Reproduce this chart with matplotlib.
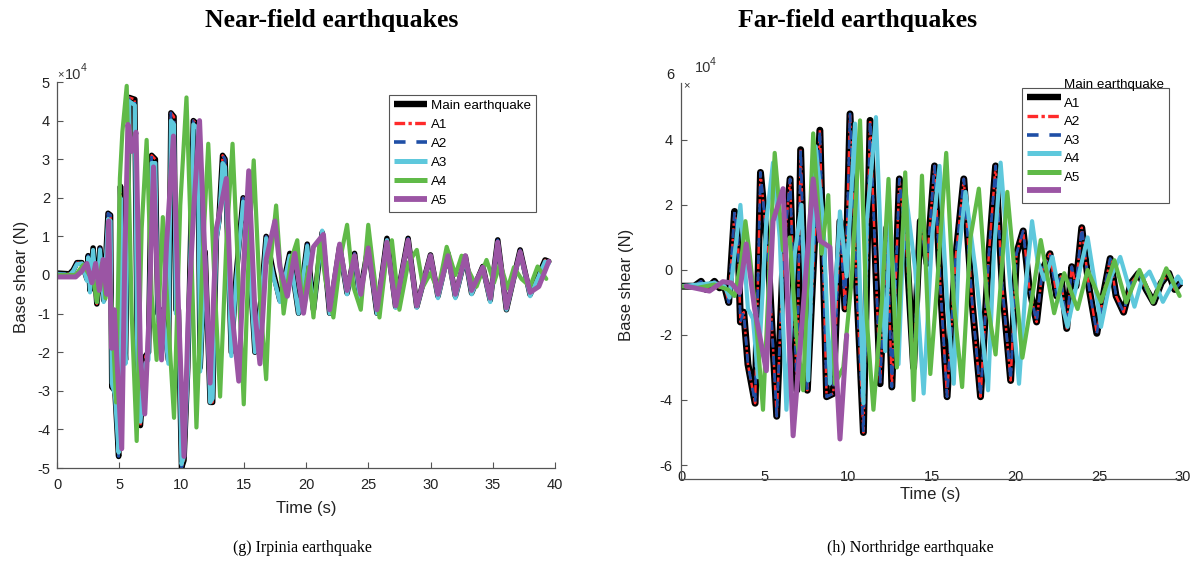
import matplotlib
matplotlib.use("Agg")
import matplotlib.pyplot as plt
from matplotlib.lines import Line2D
import matplotlib.transforms as mtransforms

plt.rcParams['font.family'] = ['Liberation Sans', 'DejaVu Sans']
plt.rcParams['axes.unicode_minus'] = False

# ---------------- data: Irpinia (near-field), base shear in 1e4 N ----------------
irp_t = [0.0, 1.0, 1.3, 1.6, 2.0, 2.4, 2.5, 2.65, 2.9, 3.2,
         3.45, 3.75, 4.1, 4.3, 4.4, 4.65, 4.95, 5.1, 5.35, 5.5,
         5.8, 6.25, 6.45, 6.7, 7.1, 7.35, 7.6, 7.9, 8.1, 8.5,
         8.95, 9.15, 9.4, 9.55, 9.75, 10.0, 10.2, 10.5, 10.95, 11.3,
         11.5, 11.9, 12.3, 12.5, 12.8, 13.0, 13.3, 13.5, 14.0, 14.4,
         14.95, 15.3, 15.9, 16.4, 16.8, 17.35, 17.9, 18.7, 19.4, 20.1,
         20.6, 21.3, 21.9, 22.7, 23.3, 23.9, 24.3, 25.0, 25.7, 26.5,
         27.2, 28.2, 28.9, 30.0, 30.6, 31.4, 32.0, 32.8, 33.3, 34.2,
         34.8, 35.4, 36.1, 37.2, 38.0, 39.2, 39.5]
irp_main = [0.05, 0.03, 0.13, 0.32, 0.32, -0.1, 0.5, -0.4, 0.7, -0.75,
            0.7, -0.65, 1.6, 1.55, -2.9, -3.0, -4.7, 2.3, -1.2, -2.2,
            4.6, 4.55, -2.0, -3.9, -2.1, -2.0, 3.1, 3.0, -1.0, -0.9,
            -2.2, 4.2, 4.1, -0.9, -0.9, -5.0, -4.8, -2.4, 4.0, 3.9,
            -2.4, 0.6, -3.3, -3.3, 1.0, 1.4, 3.1, 3.0, -2.0, 0.0,
            2.0, 1.2, -2.0, -0.6, 1.0, 0.1, -0.65, 0.56, -0.99, 0.8,
            -0.9, 1.1, -0.99, 0.73, -0.47, 0.56, -0.55, 0.73, -0.99, 0.95,
            -0.82, 0.95, -0.82, 0.52, -0.55, 0.56, -0.55, 0.48, -0.47, 0.22,
            -0.65, 0.91, -0.9, 0.65, -0.51, 0.39, 0.35]
irp_a1 = list(irp_main)
irp_a2 = list(irp_main)
irp_a3 = [0.02, 0.0, 0.1, 0.28, 0.3, -0.15, 0.45, -0.45, 0.65, -0.7,
          0.65, -0.7, 1.45, 1.4, -2.8, -3.1, -4.6, 2.0, -1.4, -2.3,
          4.5, 4.4, -2.2, -3.8, -2.3, -2.2, 2.9, 2.9, -1.2, -1.0,
          -2.3, 4.0, 3.9, -1.0, -1.0, -4.9, -4.7, -2.6, 3.9, 3.8,
          -2.5, 0.5, -3.3, -3.2, 0.9, 1.3, 2.9, 2.8, -2.1, -0.1,
          1.9, 1.1, -2.0, -0.7, 0.95, 0.0, -0.7, 0.5, -1.0, 0.75,
          -0.95, 1.15, -1.0, 0.7, -0.5, 0.5, -0.6, 0.7, -1.0, 0.9,
          -0.85, 0.9, -0.85, 0.5, -0.6, 0.5, -0.6, 0.45, -0.5, 0.2,
          -0.7, 0.85, -0.9, 0.6, -0.55, 0.35, 0.3]
irp_a4_t = [0.0, 1.5, 2.1, 2.6, 2.9, 3.2, 3.6, 3.9, 4.2, 4.45,
            4.75, 5.05, 5.25, 5.6, 6.0, 6.4, 6.8, 7.2, 7.6, 8.0,
            8.5, 8.9, 9.4, 9.9, 10.4, 10.8, 11.2, 11.7, 12.15, 12.6,
            13.1, 13.6, 14.1, 14.6, 15.0, 15.4, 15.8, 16.3, 16.8, 17.2,
            17.6, 18.2, 18.8, 19.3, 19.7, 20.2, 20.6, 21.1, 21.6, 22.2,
            22.8, 23.3, 23.8, 24.4, 25.0, 25.4, 25.9, 26.4, 26.9, 27.5,
            28.2, 28.9, 29.4, 30.0, 30.6, 31.3, 32.0, 32.5, 32.9, 33.7,
            34.5, 35.1, 35.6, 36.2, 36.7, 37.3, 38.0, 38.6, 39.3]
irp_a4 = [0.0, 0.0, 0.26, 0.0, -0.05, -0.7, 0.3, -0.6, 0.4, -1.2,
          -3.3, 2.5, 3.7, 4.9, -1.0, -4.3, 1.2, 3.5, -0.5, -2.2,
          1.5, -1.0, -3.7, 1.8, 4.6, 0.5, -3.95, 0.5, 3.4, 0.2,
          -3.15, 0.8, 3.4, -0.3, -3.35, 0.6, 2.97, -0.6, -2.7, 0.5,
          1.8, -1.0, 0.4, 0.9, -0.8, 0.2, -1.1, 0.9, -0.2, -1.1,
          0.5, 1.3, -0.3, -0.9, 1.3, 0.2, -1.1, 0.3, 0.9, -0.9,
          0.3, 0.65, -0.3, 0.05, -0.4, 0.73, 0.0, 0.5, 0.22, -0.3,
          0.39, -0.2, 0.3, -0.35, 0.2, -0.1, -0.3, 0.22, -0.1]
irp_a5_t = [0.0, 1.5, 2.0, 2.4, 2.8, 3.1, 3.4, 3.7, 4.0, 4.15,
            4.4, 4.6, 4.85, 5.2, 5.45, 5.7, 6.0, 6.35, 6.7, 7.05,
            7.4, 7.75, 8.1, 8.4, 8.8, 9.35, 9.75, 10.2, 10.55, 11.0,
            11.45, 11.9, 12.3, 12.8, 13.6, 14.0, 14.6, 15.0, 15.4, 15.9,
            16.3, 16.8, 17.5, 17.9, 18.5, 19.1, 19.8, 20.6, 21.4, 21.9,
            22.7, 23.3, 23.9, 24.4, 25.0, 25.7, 26.5, 27.2, 28.2, 28.9,
            30.0, 30.6, 31.4, 32.0, 32.8, 33.3, 34.2, 34.8, 35.4, 36.1,
            37.2, 38.0, 38.7, 39.5]
irp_a5 = [-0.05, -0.05, 0.1, 0.3, -0.2, 0.3, -0.4, 0.4, -0.5, 1.4,
          -1.9, -0.9, -2.4, -4.5, 0.5, 3.9, 3.2, 3.7, -2.1, -3.6,
          -1.0, 2.8, -0.5, -2.2, 0.8, 3.6, -0.8, -4.7, -1.0, 1.8,
          4.0, 0.3, -2.8, 1.2, 2.5, -0.8, -2.75, 0.3, 2.7, -1.0,
          -2.3, 0.4, 1.4, 0.22, -0.55, 0.56, -0.99, 0.73, 1.05, -0.9,
          0.8, -0.4, 0.5, -0.5, 0.7, -0.9, 0.85, -0.8, 0.9, -0.8,
          0.5, -0.5, 0.5, -0.5, 0.5, -0.4, 0.2, -0.6, 0.85, -0.85,
          0.6, -0.45, -0.3, 0.35]

# ---------------- data: Northridge (far-field), base shear in 1e4 N ----------------
nor_t = [0.0, 0.8, 1.2, 1.5, 2.0, 2.3, 2.6, 2.85, 3.2, 3.4,
         3.55, 3.75, 4.0, 4.43, 4.75, 5.2, 5.72, 6.1, 6.52, 6.92,
         7.15, 7.55, 8.3, 8.7, 9.1, 9.5, 9.8, 10.1, 10.5, 10.9,
         11.3, 11.9, 12.3, 12.6, 13.05, 13.5, 13.9, 14.3, 14.7, 15.15,
         15.5, 15.9, 16.4, 16.9, 17.4, 17.9, 18.4, 18.8, 19.2, 19.7,
         20.05, 20.45, 20.8, 21.25, 21.6, 22.05, 22.45, 22.7, 23.05, 23.35,
         23.6, 23.95, 24.4, 24.85, 25.3, 25.65, 26.0, 26.45, 26.9, 27.35,
         27.8, 28.25, 28.7, 29.15, 29.5, 29.85]
nor_main = [-0.5, -0.5, -0.35, -0.6, -0.35, -0.55, -0.5, -1.0, 1.8, 1.0,
            -1.6, -1.3, -2.9, -4.1, 3.0, 0.5, -4.5, 0.3, 2.8, -3.7,
            3.7, -3.7, 4.3, -3.9, -3.8, 1.5, -1.2, 4.8, -0.5, -5.0,
            4.6, -3.5, 1.3, -3.6, 2.8, 0.5, -3.0, 1.5, 0.2, 3.2,
            -0.5, -3.9, 0.3, 2.8, -1.0, -3.9, 0.5, 3.2, -0.5, -3.4,
            0.5, 1.2, -0.5, -1.6, 0.0, 0.5, -0.8, -0.2, -1.8, 0.1,
            -0.5, 1.3, -0.6, -1.95, -0.6, 0.35, -0.8, -1.3, -0.4, -0.1,
            -0.6, -1.0, -0.4, -0.1, -0.6, -0.4]
nor_a1 = list(nor_main)
nor_a2 = list(nor_main)
nor_a3_t = [0.0, 1.0, 2.0, 2.6, 2.9, 3.55, 4.0, 4.3, 4.6, 5.1,
            5.5, 5.9, 6.3, 6.8, 7.2, 7.6, 8.05, 8.5, 8.9, 9.5,
            9.9, 10.4, 10.9, 11.1, 11.65, 12.2, 12.5, 13.0, 13.4, 14.0,
            14.5, 15.0, 15.45, 15.9, 16.3, 16.6, 17.0, 17.6, 18.35, 18.7,
            19.1, 19.6, 20.2, 20.6, 20.98, 21.3, 21.7, 22.2, 22.6, 23.1,
            23.7, 24.3, 24.7, 25.1, 25.7, 26.25, 26.7, 27.1, 27.55, 28.0,
            28.4, 28.8, 29.3, 29.7, 29.95]
nor_a3 = [-0.5, -0.45, -0.4, -0.5, -0.85, 2.0, -1.2, -1.5, -3.3, 1.5,
          3.3, 1.0, -4.3, 0.5, 2.0, -3.4, 3.8, 1.5, -3.5, 1.8,
          -0.2, 4.5, -4.1, 1.5, 4.7, -2.5, 1.5, -2.9, 2.5, 0.0,
          -3.8, 1.0, 3.2, -1.0, -3.5, 0.5, 2.4, 0.0, -3.7, 0.5,
          3.3, 0.0, -3.5, -0.5, 1.5, 0.3, -0.3, 0.4, -0.7, -1.75,
          -0.3, 1.0, -0.3, -1.75, -0.2, 0.4, -0.4, -1.13, -0.3, -0.05,
          -0.5, -0.98, -0.5, -0.2, -0.4]
nor_a4_t = [0.0, 1.0, 2.0, 2.5, 2.8, 3.2, 3.6, 3.85, 4.1, 4.4,
            4.9, 5.6, 6.1, 6.5, 6.9, 7.3, 7.9, 8.4, 8.8, 9.2,
            9.7, 10.2, 10.7, 11.1, 11.5, 12.0, 12.4, 12.9, 13.4, 13.9,
            14.4, 14.9, 15.3, 15.85, 16.3, 16.8, 17.3, 17.8, 18.3, 18.8,
            19.5, 20.4, 21.0, 21.5, 22.3, 22.9, 23.7, 24.3, 25.1, 25.9,
            26.6, 27.4, 28.2, 29.0, 29.8]
nor_a4 = [-0.5, -0.55, -0.45, -0.55, -0.6, -0.8, 0.3, 1.5, 0.5, -1.0,
          -4.3, 3.6, 0.6, 1.0, -2.0, -3.7, 4.2, 0.5, 2.3, -3.5,
          -3.0, -0.3, 4.6, -1.5, -4.3, -1.0, 2.8, -3.0, 3.0, -4.0,
          2.9, -3.2, -0.5, 3.6, -1.0, -3.6, 1.0, 2.5, -1.0, -2.6,
          2.4, -2.7, -0.8, 0.92, -1.33, -0.1, -1.2, 0.0, -0.98, 0.3,
          -1.0, 0.0, -1.0, 0.05, -0.8]
nor_a5_t = [0.3, 1.7, 2.5, 3.0, 3.5, 3.9, 4.4, 5.1, 5.5, 6.1, 6.7, 7.9, 8.3, 8.9, 9.5, 9.9]
nor_a5 = [-0.5, -0.65, -0.36, -0.4, -0.7, 0.8, -1.2, -3.1, 1.5, 2.5, -5.1, 2.8, 0.9, 0.7, -5.2, -2.0]

series_names = ["Main earthquake", "A1", "A2", "A3", "A4", "A5"]
yticks_irp = [-5, -4, -3, -2, -1, 0, 1, 2, 3, 4, 5]
xticks_irp = [0, 5, 10, 15, 20, 25, 30, 35, 40]
yticks_nor = [-6, -4, -2, 0, 2, 4]
xticks_nor = [0, 5, 10, 15, 20, 25, 30]

styles = [
    dict(color="#000000", lw=4.0, ls="-"),
    dict(color="#ff2a2a", lw=1.8, ls=(0, (3.2, 1.0, 1.0, 1.0))),
    dict(color="#1f4fa6", lw=2.0, ls=(0, (3.2, 3.0))),
    dict(color="#5ec8dc", lw=3.0, ls="-"),
    dict(color="#60ba48", lw=3.0, ls="-"),
    dict(color="#9b55a4", lw=3.6, ls="-"),
]

W, H = 1192, 565
fig = plt.figure(figsize=(W / 100, H / 100), dpi=100)


def rect(x0, y0, x1, y1):
    return [x0 / W, 1 - y1 / H, (x1 - x0) / W, (y1 - y0) / H]


def fx(px):
    return px / W


def fy(py):
    return 1 - py / H


SPINE = "#555555"
serif = ["Liberation Serif", "DejaVu Serif"]

# ---------------- left panel ----------------
ax1 = fig.add_axes(rect(57, 82, 555, 468))
irp_series = [(irp_t, irp_main), (irp_t, irp_a1), (irp_t, irp_a2), (irp_t, irp_a3),
              (irp_a4_t, irp_a4), (irp_a5_t, irp_a5)]
for (tt, vv), st in zip(irp_series, styles):
    ax1.plot(tt, vv, color=st["color"], lw=st["lw"], ls=st["ls"],
             solid_joinstyle="round", solid_capstyle="round")
ax1.set_xlim(0, 40)
ax1.set_ylim(-5, 5)
ax1.set_xticks(xticks_irp)
ax1.set_yticks(yticks_irp)
ax1.tick_params(direction="in", length=4, width=0.8, color=SPINE, labelsize=10.5,
                labelcolor="#222222")
ax1.tick_params(axis="x", pad=7)
ax1.tick_params(axis="y", pad=5)
for s in ["top", "right"]:
    ax1.spines[s].set_visible(False)
for s in ["left", "bottom"]:
    ax1.spines[s].set_color(SPINE)
    ax1.spines[s].set_linewidth(0.9)
ax1.patch.set_alpha(0)

handles = [Line2D([], [], color=st["color"], lw=st["lw"] + 0.6, ls=st["ls"],
                  solid_capstyle="butt") for st in styles]
leg1 = ax1.legend(handles, series_names, loc="upper left",
                  bbox_to_anchor=(fx(389), fy(95)), bbox_transform=fig.transFigure,
                  frameon=True, fancybox=False, edgecolor="#555555", framealpha=1,
                  prop={"family": ["Liberation Sans"], "size": 9.6},
                  handlelength=2.5, handletextpad=0.3, labelspacing=0.5,
                  borderpad=0.35, borderaxespad=0)
leg1.get_frame().set_linewidth(0.8)

fig.text(fx(22), fy(277), "Base shear (N)", rotation=90, ha="center", va="center",
         fontsize=12, color="#222222")
fig.text(fx(306), fy(508), "Time (s)", ha="center", va="center", fontsize=12, color="#222222")
fig.text(fx(57), fy(74), "\u00d7", ha="left", va="center", fontsize=8, color="#333333")
fig.text(fx(65), fy(75), "10", ha="left", va="center", fontsize=10.5, color="#333333")
fig.text(fx(80.5), fy(68), "4", ha="left", va="center", fontsize=7.5, color="#333333")

fig.text(fx(332), fy(20), "Near-field earthquakes", ha="center", va="center",
         fontsize=18.5, fontweight="bold", family=serif)
fig.text(fx(302), fy(548), "(g) Irpinia earthquake", ha="center", va="center",
         fontsize=11.5, family=serif)

# ---------------- right panel ----------------
ax2 = fig.add_axes(rect(681, 83, 1183, 479))
nor_series = [(nor_t, nor_main), (nor_t, nor_a1), (nor_t, nor_a2), (nor_a3_t, nor_a3),
              (nor_a4_t, nor_a4), (nor_a5_t, nor_a5)]
for (tt, vv), st in zip(nor_series, styles):
    lw = st["lw"] + (1.0 if st["color"] == "#000000" else 0.0)
    ax2.plot(tt, vv, color=st["color"], lw=lw, ls=st["ls"],
             solid_joinstyle="round", solid_capstyle="round")
ax2.set_xlim(0, 30)
ax2.set_ylim(-6.43, 5.75)
ax2.set_xticks(xticks_nor)
ax2.set_yticks(yticks_nor)
ax2.tick_params(direction="in", length=4, width=0.8, color=SPINE, labelsize=10.5,
                labelcolor="#222222")
ax2.tick_params(axis="x", length=0, pad=-6.5)
ax2.tick_params(axis="y", pad=6)
for s in ["top", "right"]:
    ax2.spines[s].set_visible(False)
for s in ["left", "bottom"]:
    ax2.spines[s].set_color(SPINE)
    ax2.spines[s].set_linewidth(0.9)
ax2.patch.set_alpha(0)
fig.text(fx(670), fy(75), "6", ha="center", va="center", fontsize=10.5, color="#222222")

leg2 = ax2.legend(handles, series_names, loc="upper left",
                  bbox_to_anchor=(fx(1022), fy(88)), bbox_transform=fig.transFigure,
                  frameon=True, fancybox=False, edgecolor="#555555", framealpha=1,
                  prop={"family": ["Liberation Sans"], "size": 9.6},
                  handlelength=2.6, handletextpad=0.2, labelspacing=0.47,
                  borderpad=0.35, borderaxespad=0)
leg2.get_frame().set_linewidth(0.8)
shift = mtransforms.ScaledTranslation(0, 14 / 100, fig.dpi_scale_trans)
for txt in leg2.get_texts():
    txt.set_transform(txt.get_transform() + shift)

fig.text(fx(627), fy(285), "Base shear (N)", rotation=90, ha="center", va="center",
         fontsize=12, color="#222222")
fig.text(fx(930), fy(495), "Time (s)", ha="center", va="center", fontsize=12, color="#222222")
fig.text(fx(683), fy(85), "\u00d7", ha="left", va="center", fontsize=8, color="#333333")
fig.text(fx(695), fy(68), "10", ha="left", va="center", fontsize=10.5, color="#333333")
fig.text(fx(710), fy(62), "4", ha="left", va="center", fontsize=7.5, color="#333333")

fig.text(fx(858), fy(20), "Far-field earthquakes", ha="center", va="center",
         fontsize=18.5, fontweight="bold", family=serif)
fig.text(fx(910), fy(548), "(h) Northridge earthquake", ha="center", va="center",
         fontsize=11.5, family=serif)

fig.savefig("out.png", dpi=100)
